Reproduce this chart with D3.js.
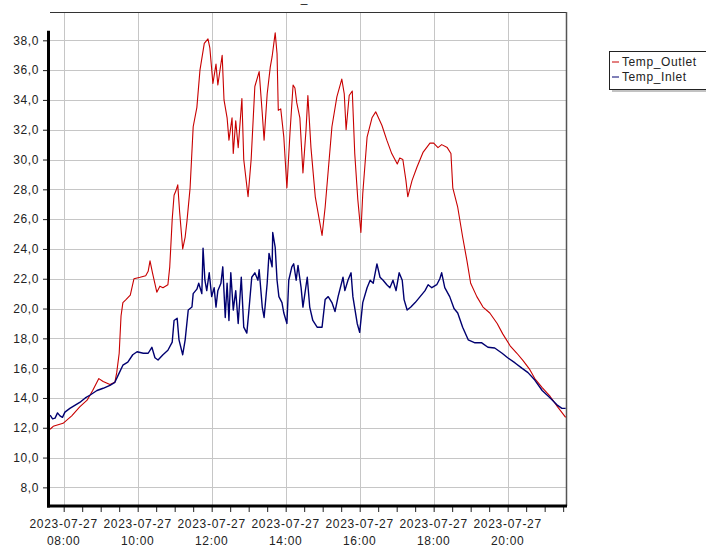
<!DOCTYPE html>
<html>
<head>
<meta charset="utf-8">
<script src="https://cdn.jsdelivr.net/npm/d3@7"></script>
<style>
  html, body { margin: 0; padding: 0; background: #fff; }
  svg { display: block; font-family: "Liberation Sans", Arial, sans-serif; }
</style>
</head>
<body>
<svg id="chart" width="706" height="548"></svg>
<script>
// Logger readings for 2023-07-27: [clock time, temperature °C]
const readingDate = "2023-07-27";
const seriesNames = ["Temp_Outlet", "Temp_Inlet"];

const outletReadings = [
  ["07:38",11.9],["07:43",12.1],["07:59",12.3],["08:13",12.8],["08:26",13.4],["08:38",13.85],
  ["08:47",14.5],["08:57",15.3],["09:04",15.1],["09:15",14.9],["09:23",15.05],["09:26",15.7],
  ["09:30",17.0],["09:33",19.5],["09:36",20.4],["09:41",20.6],["09:48",20.9],["09:54",22.0],
  ["10:04",22.1],["10:13",22.2],["10:17",22.5],["10:20",23.2],["10:24",22.4],["10:31",21.1],
  ["10:36",21.5],["10:41",21.4],["10:49",21.6],["10:52",22.8],["10:56",26.0],["10:59",27.6],
  ["11:02",27.9],["11:05",28.3],["11:08",26.5],["11:13",24.0],["11:17",24.8],["11:20",25.9],
  ["11:25",28.1],["11:30",32.2],["11:36",33.5],["11:41",36.0],["11:48",37.8],["11:54",38.1],
  ["11:57",37.5],["12:02",35.1],["12:07",36.4],["12:10",35.0],["12:17",37.0],["12:20",34.0],
  ["12:25",32.8],["12:28",31.3],["12:33",32.8],["12:35",30.4],["12:39",32.6],["12:43",30.8],
  ["12:49",34.1],["12:52",30.0],["12:59",27.5],["13:04",30.0],["13:10",34.9],["13:17",35.9],
  ["13:22",33.1],["13:25",31.3],["13:30",34.4],["13:35",36.2],["13:38",36.9],["13:43",38.5],
  ["13:46",37.1],["13:48",33.3],["13:52",33.4],["13:57",31.5],["14:02",28.1],["14:07",31.8],
  ["14:12",35.0],["14:15",34.8],["14:18",33.8],["14:23",32.8],["14:28",29.1],["14:33",32.0],
  ["14:36",34.3],["14:41",30.8],["14:48",27.5],["14:59",24.9],["15:04",26.8],["15:15",32.2],
  ["15:23",34.2],["15:31",35.4],["15:35",34.4],["15:38",32.0],["15:43",34.3],["15:48",34.6],
  ["15:52",30.4],["15:57",27.3],["16:02",25.1],["16:05",27.7],["16:12",31.5],["16:20",32.8],
  ["16:26",33.2],["16:36",32.3],["16:44",31.3],["16:52",30.4],["17:01",29.7],["17:05",30.1],
  ["17:10",30.0],["17:15",28.6],["17:18",27.5],["17:25",28.6],["17:33",29.5],["17:43",30.5],
  ["17:54",31.1],["18:00",31.1],["18:07",30.8],["18:13",31.0],["18:22",30.8],["18:28",30.4],
  ["18:31",28.1],["18:39",26.8],["18:47",24.8],["18:54",23.2],["19:00",21.7],["19:10",20.8],
  ["19:20",20.1],["19:31",19.7],["19:43",19.0],["19:52",18.3],["20:04",17.5],["20:15",17.0],
  ["20:25",16.5],["20:36",15.9],["20:44",15.3],["20:56",14.7],["21:09",14.1],["21:21",13.4],
  ["21:34",12.7]
];

const inletReadings = [
  ["07:38",12.85],["07:42",12.6],["07:46",12.65],["07:50",13.0],["07:54",12.8],["07:58",12.7],
  ["08:02",13.05],["08:10",13.3],["08:18",13.5],["08:26",13.7],["08:35",14.0],["08:43",14.2],
  ["08:54",14.5],["09:04",14.65],["09:15",14.85],["09:23",15.05],["09:28",15.5],["09:36",16.2],
  ["09:44",16.4],["09:52",16.9],["09:59",17.1],["10:09",17.0],["10:17",17.0],["10:23",17.4],
  ["10:28",16.7],["10:33",16.55],["10:41",16.9],["10:49",17.2],["10:56",17.75],["10:59",19.2],
  ["11:04",19.35],["11:07",17.9],["11:13",16.9],["11:17",17.9],["11:22",19.9],["11:28",20.1],
  ["11:30",21.0],["11:36",21.3],["11:39",21.7],["11:44",21.0],["11:46",24.05],["11:49",21.9],
  ["11:52",21.2],["11:56",22.4],["12:00",20.8],["12:04",21.4],["12:07",20.1],["12:10",21.2],
  ["12:15",21.7],["12:18",22.8],["12:22",19.4],["12:25",21.7],["12:28",19.2],["12:31",22.4],
  ["12:35",19.9],["12:39",21.2],["12:43",19.0],["12:48",22.1],["12:52",18.75],["12:57",18.35],
  ["13:00",19.7],["13:05",22.1],["13:10",22.4],["13:15",21.9],["13:17",22.6],["13:22",20.1],
  ["13:25",19.4],["13:30",21.7],["13:33",23.7],["13:38",22.8],["13:39",25.1],["13:43",24.1],
  ["13:46",21.9],["13:49",20.8],["13:54",20.4],["13:57",19.7],["14:02",19.0],["14:05",21.9],
  ["14:10",22.8],["14:13",23.0],["14:17",21.9],["14:20",22.9],["14:25",21.4],["14:28",20.1],
  ["14:35",22.1],["14:39",20.1],["14:44",19.2],["14:51",18.75],["14:59",18.75],["15:04",20.6],
  ["15:09",20.8],["15:15",20.4],["15:20",19.8],["15:25",20.8],["15:33",22.1],["15:36",21.2],
  ["15:41",21.9],["15:46",22.4],["15:49",20.8],["15:56",19.0],["16:00",18.4],["16:05",20.4],
  ["16:12",21.4],["16:17",21.9],["16:22",21.7],["16:28",23.0],["16:33",22.1],["16:38",21.9],
  ["16:44",21.6],["16:49",21.4],["16:54",21.9],["16:59",21.2],["17:04",22.4],["17:09",21.9],
  ["17:12",20.6],["17:17",19.9],["17:23",20.1],["17:30",20.4],["17:38",20.8],["17:46",21.2],
  ["17:51",21.6],["17:57",21.4],["18:05",21.6],["18:10",22.0],["18:13",22.4],["18:18",21.4],
  ["18:26",20.8],["18:33",20.0],["18:39",19.7],["18:47",18.75],["18:56",17.9],["19:07",17.7],
  ["19:18",17.7],["19:28",17.4],["19:39",17.35],["19:51",17.0],["20:00",16.7],["20:12",16.35],
  ["20:23",16.0],["20:33",15.7],["20:44",15.2],["20:56",14.5],["21:09",14.0],["21:21",13.5],
  ["21:28",13.3],["21:34",13.3]
];

const yTickValues = [8, 10, 12, 14, 16, 18, 20, 22, 24, 26, 28, 30, 32, 34, 36, 38];
const xLabelTimes = ["08:00", "10:00", "12:00", "14:00", "16:00", "18:00", "20:00"];

// ---- drawing ----
const svg = d3.select("#chart");
const plot = { left: 50, right: 566, top: 12, bottom: 506 };
const parse = d3.timeParse("%Y-%m-%d %H:%M:%S");
const at = t => parse(`${readingDate} ${t.length === 5 ? t + ":00" : t}`);

const x = d3.scaleTime()
  .domain([at("07:37:48"), at("21:34:36")])
  .range([plot.left, plot.right]);
const y = d3.scaleLinear()
  .domain([6.75, 39.9])
  .range([plot.bottom, plot.top]);

const toPoints = rows => rows.map(([t, v]) => ({ t: at(t), v }));
const series = [
  { name: seriesNames[0], color: "#c80000", width: 1.1, points: toPoints(outletReadings) },
  { name: seriesNames[1], color: "#000070", width: 1.4, points: toPoints(inletReadings) }
];

// gridlines
const grid = svg.append("g").attr("stroke", "#c6c6c6").attr("stroke-width", 1);
grid.selectAll("line.h").data(yTickValues).join("line")
  .attr("x1", plot.left).attr("x2", plot.right)
  .attr("y1", d => Math.round(y(d)) + 0.5).attr("y2", d => Math.round(y(d)) + 0.5);
grid.selectAll("line.v").data(xLabelTimes).join("line")
  .attr("x1", d => Math.round(x(at(d))) + 0.5).attr("x2", d => Math.round(x(at(d))) + 0.5)
  .attr("y1", plot.top).attr("y2", plot.bottom);

// frame: top and right edges
svg.append("line").attr("x1", plot.left).attr("x2", plot.right + 1)
  .attr("y1", plot.top + 0.5).attr("y2", plot.top + 0.5)
  .attr("stroke", "#333").attr("stroke-width", 1);
svg.append("line").attr("x1", plot.right + 0.5).attr("x2", plot.right + 0.5)
  .attr("y1", plot.top).attr("y2", plot.bottom)
  .attr("stroke", "#555").attr("stroke-width", 1.5);

// data lines
const line = d3.line().x(d => x(d.t)).y(d => y(d.v));
const lines = svg.append("g").attr("fill", "none").attr("stroke-linejoin", "round");
series.forEach(s => {
  lines.append("path").datum(s.points)
    .attr("d", line)
    .attr("stroke", s.color)
    .attr("stroke-width", s.width);
});

// y axis
const yAxis = d3.axisLeft(y).tickValues(yTickValues).tickSize(5).tickPadding(4)
  .tickFormat(d => d3.format(".1f")(d).replace(".", ","));
const gy = svg.append("g").attr("transform", `translate(${plot.left - 2},0)`).call(yAxis);
gy.select(".domain").remove();
gy.selectAll(".tick line").attr("stroke", "#222");
gy.selectAll(".tick text").attr("font-size", 12).attr("fill", "#222")
  .attr("letter-spacing", 0.6).attr("font-family", "Liberation Sans, Arial, sans-serif");

const dataMax = d3.max(series, s => d3.max(s.points, d => d.v));
svg.append("line")
  .attr("x1", plot.left - 1.5).attr("x2", plot.left - 1.5)
  .attr("y1", y(dataMax) - 2).attr("y2", plot.bottom + 1.5)
  .attr("stroke", "#000").attr("stroke-width", 3);

// x axis: half-hour ticks, labels every two hours
const xAxis = d3.axisBottom(x)
  .ticks(d3.timeMinute.every(30))
  .tickSize(5)
  .tickFormat(() => "");
const gx = svg.append("g").attr("transform", `translate(0,${plot.bottom + 1})`).call(xAxis);
gx.select(".domain").remove();
gx.selectAll(".tick line").attr("stroke", "#222");

svg.append("line")
  .attr("x1", plot.left - 3).attr("x2", plot.right + 1)
  .attr("y1", plot.bottom).attr("y2", plot.bottom)
  .attr("stroke", "#000").attr("stroke-width", 3);

const fmtDate = d3.timeFormat("%Y-%m-%d");
const fmtTime = d3.timeFormat("%H:%M");
const xl = svg.append("g").attr("font-size", 12).attr("fill", "#222")
  .attr("text-anchor", "middle").attr("letter-spacing", 0.7);
xLabelTimes.forEach(t => {
  const d = at(t);
  const txt = xl.append("text").attr("x", x(d)).attr("y", 528);
  txt.append("tspan").attr("x", x(d)).attr("y", 528).text(fmtDate(d));
  txt.append("tspan").attr("x", x(d)).attr("y", 545).text(fmtTime(d));
});

// title
svg.append("text").attr("x", 304).attr("y", 2).attr("text-anchor", "middle")
  .attr("font-size", 12).attr("fill", "#222").text("_");

// legend
const lg = svg.append("g").attr("transform", "translate(609,51)");
lg.append("rect").attr("x", 3).attr("y", 3).attr("width", 110).attr("height", 38)
  .attr("fill", "#9a9a9a").attr("opacity", 0.6);
lg.append("rect").attr("x", 0.5).attr("y", 0.5).attr("width", 110).attr("height", 38)
  .attr("fill", "#fff").attr("stroke", "#222").attr("stroke-width", 1);
series.forEach((s, i) => {
  const cy = 11 + i * 15;
  lg.append("line").attr("x1", 3).attr("x2", 10).attr("y1", cy).attr("y2", cy)
    .attr("stroke", s.color).attr("stroke-width", 1);
  lg.append("text").attr("x", 13).attr("y", cy + 4).attr("font-size", 12)
    .attr("letter-spacing", 0.6).attr("fill", "#222").text(s.name);
});
</script>
</body>
</html>
